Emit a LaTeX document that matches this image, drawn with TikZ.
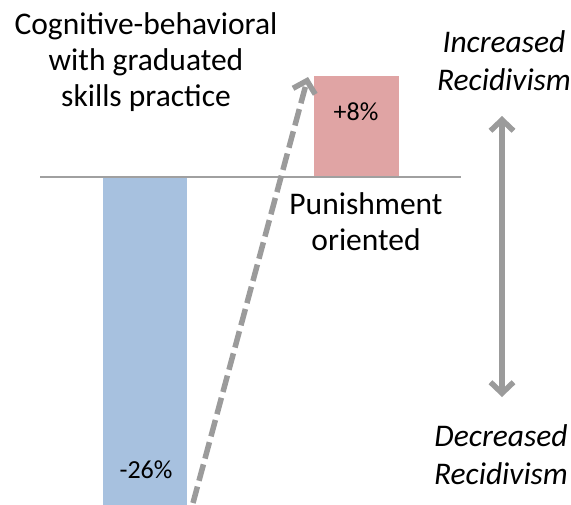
\documentclass[tikz,border=0pt]{standalone}
\usepackage{fontspec}
\setmainfont{Carlito}
\usepackage{xcolor}
\usetikzlibrary{arrows.meta}
\definecolor{barblue}{RGB}{167,193,223}
\definecolor{barred}{RGB}{224,164,164}
\definecolor{axisgray}{RGB}{160,160,160}
\definecolor{arrowgray}{RGB}{155,155,155}
\tikzset{
	bar/.style={rectangle,inner sep=0pt,anchor=north west},
	label text/.style={align=center,font=\fontsize{31.5}{36}\selectfont},
	side text/.style={align=center,font=\fontsize{31.5}{38}\selectfont\itshape},
	pct/.style={font=\fontsize{26}{30}\selectfont},
	gray arrow/.style={arrowgray,line width=5.5pt}
}

\begin{document}
\begin{tikzpicture}[x=1pt,y=-1pt,>={Straight Barb[length=11pt,width=23pt]}]
	\useasboundingbox (0,0) rectangle (571,504);
	% bars
	\node [bar,fill=barblue,minimum width=84pt,minimum height=328pt] (cb) at (103,177) {};
	\node [bar,fill=barred,minimum width=85pt,minimum height=101pt] (pun) at (314,76) {};
	\node [pct] (cbval) at (146,470) {-26\%};
	\node [pct] (punval) at (356,112) {+8\%};
	% zero line
	\coordinate (zl) at (40,177);
	\coordinate (zr) at (461,177);
	\draw [axisgray,line width=2pt] (zl) -- (zr);
	% labels
	\node [label text] (cblabel) at (146,62) {Cognitive-behavioral\\with graduated\\skills practice};
	\node [label text] (punlabel) at (366,222) {Punishment\\oriented};
	\node [side text] (up) at (504,61) {Increased\\Recidivism};
	\node [side text] (down) at (501,455) {Decreased\\Recidivism};
	% arrows
	\coordinate (from) at (193,503);
	\coordinate (to) at (308,77);
	\draw [gray arrow,dash pattern=on 17pt off 6pt,->] (from) -- (to);
	\coordinate (uptip) at (502,116);
	\coordinate (downtip) at (502,397);
	\draw [gray arrow,<->] (downtip) -- (uptip);
\end{tikzpicture}
\end{document}
